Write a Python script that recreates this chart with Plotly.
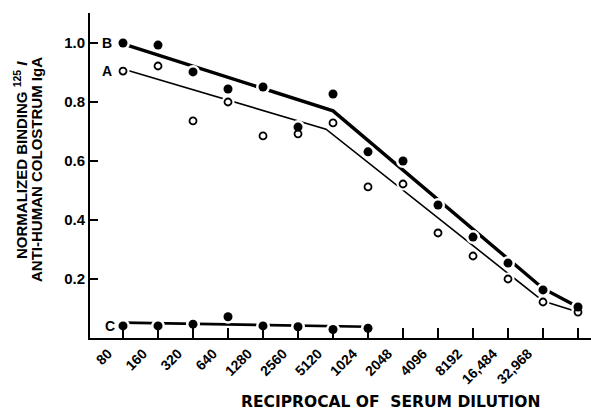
import plotly.graph_objects as go

# ---- data ----
dilution_labels = ["80", "160", "320", "640", "1280", "2560", "5120", "1024",
                   "2048", "4096", "8192", "16,484", "32,968", ""]
positions = list(range(len(dilution_labels)))

series_b = [1.0, 0.993, 0.902, 0.844, 0.851, 0.715, 0.827, 0.631,
            0.600, 0.451, 0.342, 0.254, 0.163, 0.105]
series_a = [0.905, 0.922, 0.736, 0.800, 0.685, 0.692, 0.729, 0.512,
            0.522, 0.356, 0.278, 0.200, 0.122, 0.088]
series_c = [0.041, 0.041, 0.047, 0.072, 0.041, 0.038, 0.029, 0.033]

# hand-drawn fitted lines (x in category index units)
fit_b_x = [0, 6, 12, 13]
fit_b_y = [0.997, 0.770, 0.168, 0.105]
fit_a_x = [0, 5.8, 12, 13]
fit_a_y = [0.912, 0.708, 0.125, 0.088]
fit_c_x = [0, 7]
fit_c_y = [0.052, 0.038]

y_tick_vals = [0.2, 0.4, 0.6, 0.8, 1.0]
y_tick_text = ["0.2", "0.4", "0.6", "0.8", "1.0"]

FONT = "Liberation Sans"
fig = go.Figure()

# fitted lines
fig.add_trace(go.Scatter(x=fit_a_x, y=fit_a_y, mode="lines", cliponaxis=False,
                         line=dict(color="black", width=1.6), hoverinfo="skip"))
fig.add_trace(go.Scatter(x=fit_b_x, y=fit_b_y, mode="lines", cliponaxis=False,
                         line=dict(color="black", width=3.4), hoverinfo="skip"))
fig.add_trace(go.Scatter(x=fit_c_x, y=fit_c_y, mode="lines", cliponaxis=False,
                         line=dict(color="black", width=2.6), hoverinfo="skip"))

# white halos that break the lines around the points
fig.add_trace(go.Scatter(x=positions, y=series_a, mode="markers", cliponaxis=False,
                         marker=dict(color="white", size=13), hoverinfo="skip"))
fig.add_trace(go.Scatter(x=positions, y=series_b, mode="markers", cliponaxis=False,
                         marker=dict(color="white", size=14), hoverinfo="skip"))
fig.add_trace(go.Scatter(x=positions[:len(series_c)], y=series_c, mode="markers",
                         cliponaxis=False,
                         marker=dict(color="white", size=14), hoverinfo="skip"))

# data points
fig.add_trace(go.Scatter(x=positions, y=series_a, mode="markers", cliponaxis=False,
                         marker=dict(color="white", size=7,
                                     line=dict(color="black", width=1.8))))
fig.add_trace(go.Scatter(x=positions, y=series_b, mode="markers", cliponaxis=False,
                         marker=dict(color="black", size=9)))
fig.add_trace(go.Scatter(x=positions[:len(series_c)], y=series_c, mode="markers",
                         cliponaxis=False, marker=dict(color="black", size=9)))

# series labels
for name, yv, shift in [("B", series_b[0], -16), ("A", series_a[0], -16), ("C", series_c[0], -13)]:
    fig.add_annotation(x=0, y=yv, text=name, showarrow=False, xshift=shift,
                       font=dict(family=FONT, size=14, color="black", weight="bold"))

# y axis title (two lines)
fig.add_annotation(xref="paper", yref="paper", x=(20 - 90) / 501, y=(338 - 160) / 325,
                   text="NORMALIZED BINDING <sup>125</sup> <i>I</i>", textangle=-90,
                   showarrow=False, xanchor="center", yanchor="middle",
                   font=dict(family=FONT, size=15, color="black", weight="bold"))
fig.add_annotation(xref="paper", yref="paper", x=(36 - 90) / 501, y=(338 - 170) / 325,
                   text="ANTI-HUMAN COLOSTRUM IgA", textangle=-90,
                   showarrow=False, xanchor="center", yanchor="middle",
                   font=dict(family=FONT, size=15, color="black", weight="bold"))

# x axis title
fig.add_annotation(xref="paper", yref="paper", x=(390 - 90) / 501, y=(338 - 402) / 325,
                   text="RECIPROCAL OF  SERUM DILUTION", showarrow=False,
                   xanchor="center", yanchor="middle",
                   font=dict(family="DejaVu Sans", size=15.5, color="black", weight="bold"))

fig.update_layout(
    width=591, height=415, autosize=False,
    margin=dict(l=90, r=0, t=13, b=77),
    paper_bgcolor="white", plot_bgcolor="white",
    showlegend=False,
    xaxis=dict(range=[-0.943, 13.371], tickmode="array", tickvals=positions,
               ticktext=dilution_labels, ticks="inside", ticklen=10, tickwidth=2,
               tickcolor="black", showline=True, linewidth=2, linecolor="black",
               showgrid=False, zeroline=False, tickangle=-45, ticklabelshift=-15,
               tickfont=dict(family=FONT, size=14, color="black", weight="bold")),
    yaxis=dict(range=[0, 1.1017], tickmode="array", tickvals=y_tick_vals,
               ticktext=y_tick_text, ticks="inside", ticklen=8, tickwidth=2,
               tickcolor="black", showline=True, linewidth=2, linecolor="black",
               showgrid=False, zeroline=False,
               tickfont=dict(family=FONT, size=15, color="black", weight="bold")),
)

fig.write_html("out.html", config={"displayModeBar": False},
               post_script="document.body.style.margin='0';document.body.style.overflow='hidden';")
